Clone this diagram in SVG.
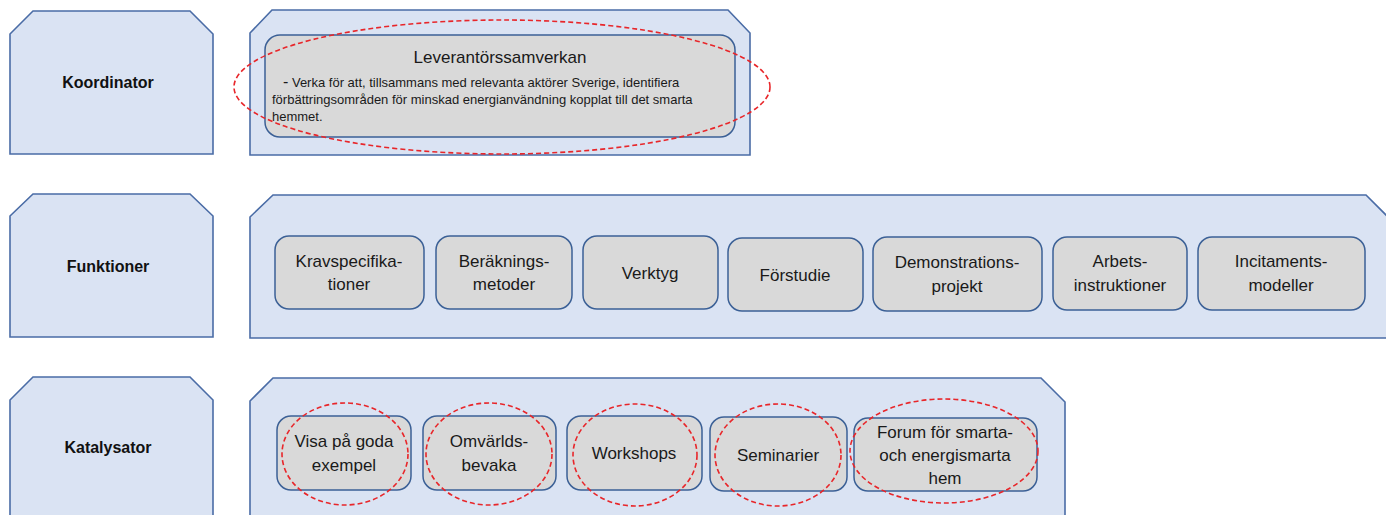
<svg xmlns="http://www.w3.org/2000/svg" width="1386" height="515" viewBox="0 0 1386 515">
<defs>
<style>
.outer{fill:#dae3f3;stroke:#4a6ca6;stroke-width:1.6}
.inner{fill:#d9d9d9;stroke:#3b6096;stroke-width:1.5}
.ring{fill:none;stroke:#e8262a;stroke-width:1.6;stroke-dasharray:5 3}
.lbl{font-family:"Liberation Sans",Arial,sans-serif;font-weight:bold;font-size:16px;fill:#111;text-anchor:middle}
.t{font-family:"Liberation Sans",Arial,sans-serif;font-size:17px;fill:#1a1a1a;text-anchor:middle}
.b{font-family:"Liberation Sans",Arial,sans-serif;font-size:13px;fill:#1a1a1a}
</style>
</defs>
<rect width="1386" height="515" fill="#ffffff"/>

<g id="koordinator-label">
<polygon class="outer" points="10,34 33,11 190,11 213,34 213,154 10,154"/>
<text class="lbl" x="108" y="88">Koordinator</text>
</g>
<g id="funktioner-label">
<polygon class="outer" points="10,216 33,194 190,194 213,216 213,337 10,337"/>
<text class="lbl" x="108" y="272">Funktioner</text>
</g>
<g id="katalysator-label">
<polygon class="outer" points="10,400 33,377 190,377 213,400 213,522 10,522"/>
<text class="lbl" x="108" y="453">Katalysator</text>
</g>

<g id="koordinator-panel">
<polygon class="outer" points="250,33 272,10 728,10 750,33 750,155 250,155"/>
</g>
<g id="leverantorssamverkan">
<rect class="inner" x="265" y="35" width="470" height="102" rx="15"/>
<text class="t" x="500" y="63">Leverantörssamverkan</text>
<text class="b" x="283" y="87"><tspan font-size="16">-</tspan> Verka för att, tillsammans med relevanta aktörer Sverige, identifiera</text>
<text class="b" x="272" y="104">förbättringsområden för minskad energianvändning kopplat till det smarta</text>
<text class="b" x="272" y="121">hemmet.</text>
</g>

<g id="funktioner-panel">
<polygon class="outer" points="250,217 273,195 1366,195 1388,217 1388,338 250,338"/>
</g>
<g id="kravspecifikationer">
<rect class="inner" x="275" y="236" width="149" height="73" rx="14"/>
<text class="t" x="349" y="267">Kravspecifika-</text>
<text class="t" x="349" y="290">tioner</text>
</g>
<g id="berakningsmetoder">
<rect class="inner" x="436" y="236" width="136" height="73" rx="14"/>
<text class="t" x="504" y="267">Beräknings-</text>
<text class="t" x="504" y="290">metoder</text>
</g>
<g id="verktyg">
<rect class="inner" x="583" y="236" width="135" height="73" rx="14"/>
<text class="t" x="650" y="279">Verktyg</text>
</g>
<g id="forstudie">
<rect class="inner" x="728" y="238" width="135" height="73" rx="14"/>
<text class="t" x="795" y="281">Förstudie</text>
</g>
<g id="demonstrationsprojekt">
<rect class="inner" x="873" y="237" width="169" height="74" rx="14"/>
<text class="t" x="957" y="268">Demonstrations-</text>
<text class="t" x="957" y="292">projekt</text>
</g>
<g id="arbetsinstruktioner">
<rect class="inner" x="1053" y="237" width="134" height="73" rx="14"/>
<text class="t" x="1120" y="267">Arbets-</text>
<text class="t" x="1120" y="291">instruktioner</text>
</g>
<g id="incitamentsmodeller">
<rect class="inner" x="1198" y="237" width="167" height="73" rx="14"/>
<text class="t" x="1281" y="267">Incitaments-</text>
<text class="t" x="1281" y="291">modeller</text>
</g>

<g id="katalysator-panel">
<polygon class="outer" points="250,401 273,378 1041,378 1065,402 1065,522 250,522"/>
</g>
<g id="visa-pa-goda-exempel">
<rect class="inner" x="277" y="416" width="134" height="74" rx="14"/>
<text class="t" x="344" y="447">Visa på goda</text>
<text class="t" x="344" y="471">exempel</text>
</g>
<g id="omvarldsbevaka">
<rect class="inner" x="423" y="416" width="133" height="74" rx="14"/>
<text class="t" x="489" y="447">Omvärlds-</text>
<text class="t" x="489" y="471">bevaka</text>
</g>
<g id="workshops">
<rect class="inner" x="567" y="416" width="135" height="74" rx="14"/>
<text class="t" x="634" y="459">Workshops</text>
</g>
<g id="seminarier">
<rect class="inner" x="710" y="417" width="137" height="74" rx="14"/>
<text class="t" x="778" y="461">Seminarier</text>
</g>
<g id="forum">
<rect class="inner" x="854" y="418" width="183" height="73" rx="14"/>
<text class="t" x="945" y="438">Forum för smarta-</text>
<text class="t" x="945" y="461">och energismarta</text>
<text class="t" x="945" y="484">hem</text>
</g>

<g id="connectors">
<ellipse class="ring" cx="502" cy="87" rx="268" ry="67"/>
<ellipse class="ring" cx="345" cy="454" rx="63" ry="51"/>
<ellipse class="ring" cx="489" cy="454" rx="63" ry="51"/>
<ellipse class="ring" cx="635" cy="455" rx="62" ry="51"/>
<ellipse class="ring" cx="778" cy="455" rx="63" ry="51"/>
<ellipse class="ring" cx="944" cy="451" rx="94" ry="52"/>
</g>
</svg>
